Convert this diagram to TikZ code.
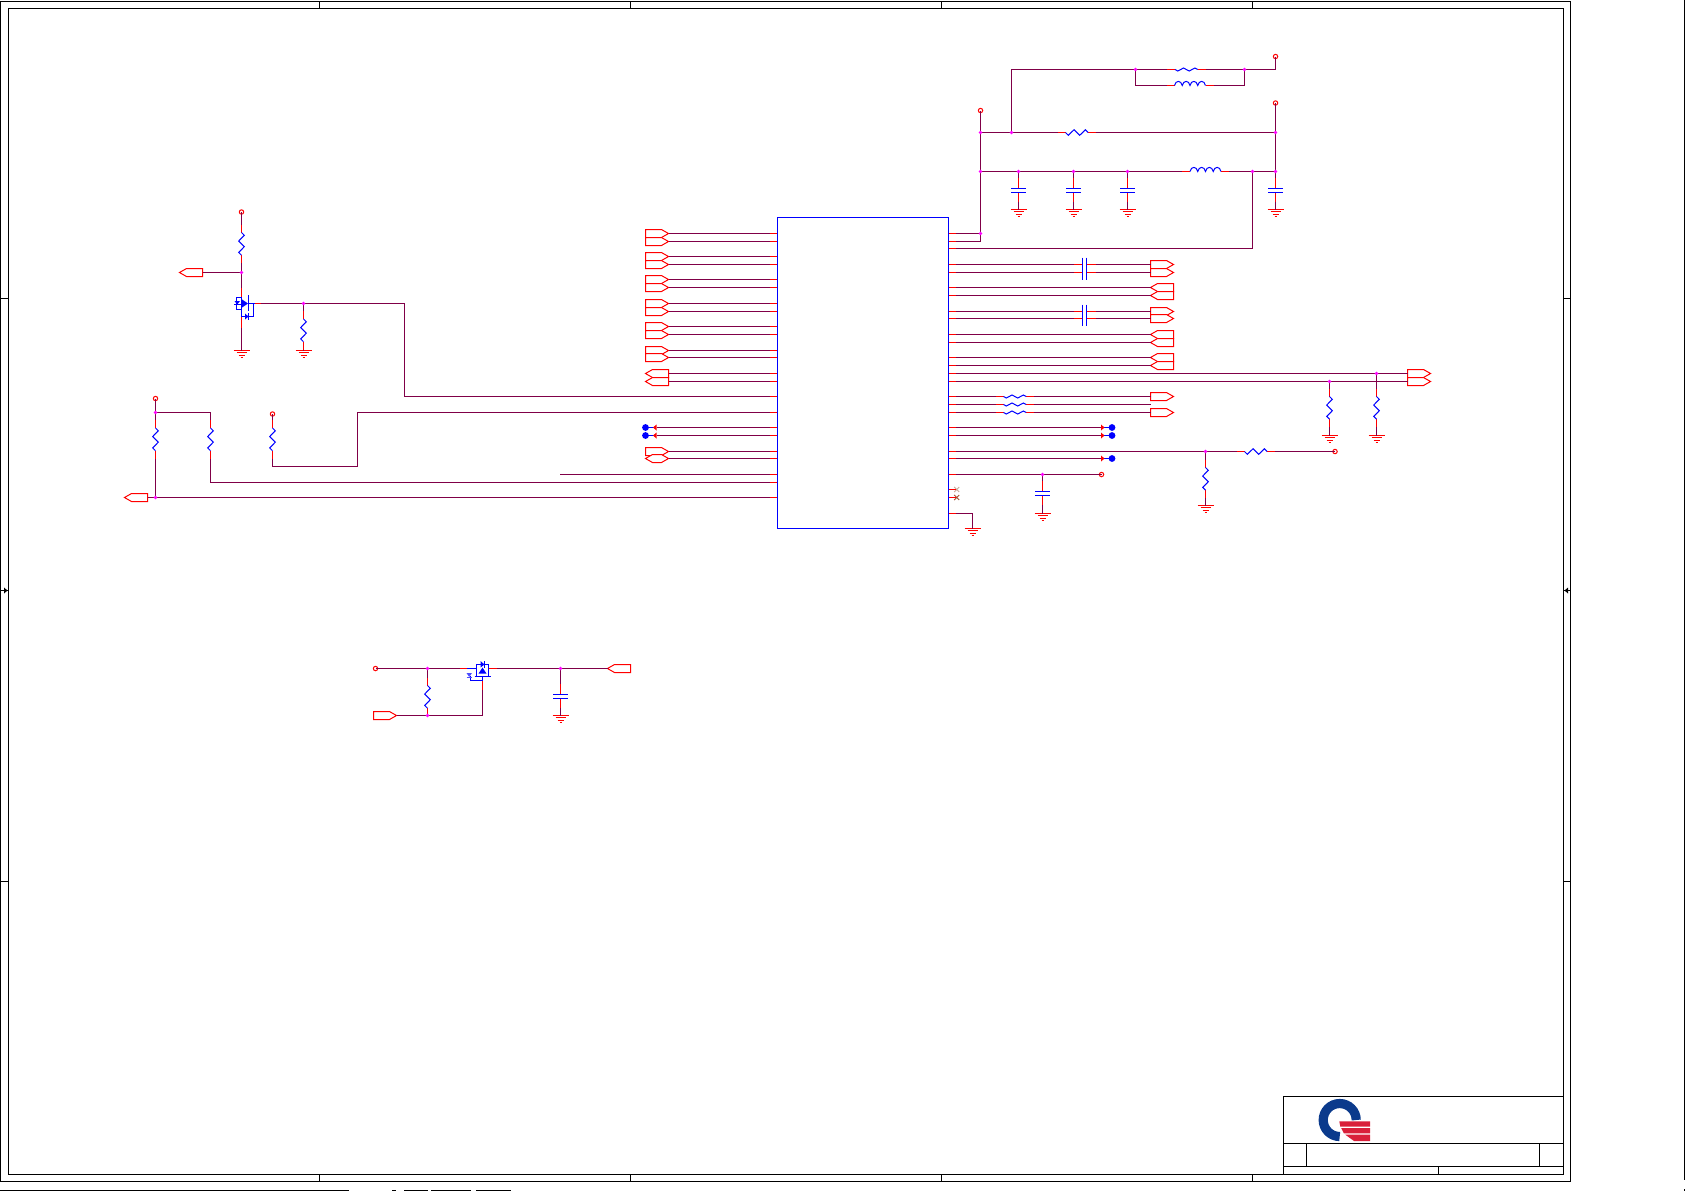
\documentclass[tikz,border=0pt]{standalone}
\definecolor{wirec}{HTML}{800048}
\definecolor{pinc}{HTML}{FF0000}
\definecolor{compc}{HTML}{0000FF}
\definecolor{juncc}{HTML}{FF00FF}
\definecolor{logob}{HTML}{0B3A8C}
\definecolor{logor}{HTML}{D9203A}
\definecolor{nc}{HTML}{A05030}
\definecolor{ncpale}{HTML}{C8A898}
\tikzset{
  wire/.style={draw=wirec,line width=0.5pt},
  pin/.style={draw=pinc,line width=0.5pt},
  comp/.style={draw=compc,line width=0.5pt},
  plate/.style={draw=compc,line width=0.6pt},
  port/.style={draw=pinc,line width=0.5pt,fill=white,line join=miter},
  frame/.style={draw=black,line width=0.5pt},
  chip/.style={draw=compc,line width=0.5pt,rectangle,inner sep=0pt,outer sep=0pt,minimum width=85.5pt,minimum height=155.5pt},
}
% components: coordinates #1-a and #1-b are their two connection ends
\newcommand{\resV}[3]{%
  \coordinate (#1-a) at (#2,#3-8); \coordinate (#1-b) at (#2,#3+30.7);
  \draw[pin] (#1-a) -- (#2,#3); \draw[pin] (#2,#3+22.7) -- (#1-b);
  \draw[comp] (#2,#3) -- (#2+2.8,#3+2.8) -- (#2-2.8,#3+8.5) -- (#2+2.8,#3+14.2) -- (#2-2.8,#3+19.9) -- (#2,#3+22.7);}
\newcommand{\resH}[4]{% name,x,y,amp
  \coordinate (#1-a) at (#2-8,#3); \coordinate (#1-b) at (#2+30.7,#3);
  \draw[pin] (#1-a) -- (#2,#3); \draw[pin] (#2+22.7,#3) -- (#1-b);
  \draw[comp] (#2,#3) -- (#2+2.8,#3+#4) -- (#2+8.5,#3-#4) -- (#2+14.2,#3+#4) -- (#2+19.9,#3-#4) -- (#2+22.7,#3);}
\newcommand{\indH}[3]{%
  \coordinate (#1-a) at (#2-8,#3); \coordinate (#1-b) at (#2+39,#3);
  \draw[pin] (#1-a) -- (#2,#3); \draw[pin] (#2+31,#3) -- (#1-b);
  \draw[comp] (#2,#3)
    .. controls (#2+1,#3-5.5) and (#2+6.7,#3-5.5) .. (#2+7.75,#3)
    .. controls (#2+8.75,#3-5.5) and (#2+14.5,#3-5.5) .. (#2+15.5,#3)
    .. controls (#2+16.5,#3-5.5) and (#2+22.2,#3-5.5) .. (#2+23.25,#3)
    .. controls (#2+24.25,#3-5.5) and (#2+30,#3-5.5) .. (#2+31,#3);}
\newcommand{\capV}[3]{% name,x,y of upper plate
  \coordinate (#1-a) at (#2,#3-11); \coordinate (#1-b) at (#2,#3+13);
  \draw[pin] (#1-a) -- (#2,#3); \draw[pin] (#2,#3+4) -- (#1-b);
  \draw[plate] (#2-7.5,#3) -- (#2+7.5,#3); \draw[plate] (#2-7.5,#3+4) -- (#2+7.5,#3+4);}
\newcommand{\capH}[3]{%
  \coordinate (#1-a) at (#2-11,#3); \coordinate (#1-b) at (#2+11.5,#3);
  \draw[pin] (#1-a) -- (#2-2,#3); \draw[pin] (#2+2,#3) -- (#1-b);
  \draw[plate] (#2-2,#3-7) -- (#2-2,#3+7); \draw[plate] (#2+2,#3-7) -- (#2+2,#3+7);}
\newcommand{\gnd}[3]{%
  \coordinate (#1) at (#2,#3);
  \draw[pin] (#2-8,#3) -- (#2+8,#3);
  \draw[pin] (#2-5,#3+2) -- (#2+5,#3+2);
  \draw[pin] (#2-3,#3+5) -- (#2+3,#3+5);
  \draw[pin] (#2-1,#3+7) -- (#2+1,#3+7);}
\newcommand{\pwr}[3]{%
  \coordinate (#1) at (#2,#3);
  \draw[draw=pinc,line width=0.5pt,fill=white] (#2,#3) circle[radius=1.1pt];}
\newcommand{\junc}[3]{\coordinate (#1) at (#2,#3);}
\newcommand{\dotj}[1]{\fill[juncc] (#1) circle[radius=0.95pt];}
\newcommand{\portR}[3]{%
  \coordinate (#1-w) at (#2,#3); \coordinate (#1-e) at (#2+23,#3);
  \draw[port] (#2,#3-4) -- (#2+16,#3-4) -- (#2+23,#3) -- (#2+16,#3+4) -- (#2,#3+4) -- cycle;}
\newcommand{\portL}[3]{%
  \coordinate (#1-w) at (#2,#3); \coordinate (#1-e) at (#2+23,#3);
  \draw[port] (#2,#3) -- (#2+7,#3-4) -- (#2+23,#3-4) -- (#2+23,#3+4) -- (#2+7,#3+4) -- cycle;}
\newcommand{\portB}[3]{%
  \coordinate (#1-w) at (#2,#3); \coordinate (#1-e) at (#2+23,#3);
  \draw[port] (#2,#3) -- (#2+7,#3-4) -- (#2+16,#3-4) -- (#2+23,#3) -- (#2+16,#3+4) -- (#2+7,#3+4) -- cycle;}
\newcommand{\testL}[3]{% dot on the left, wire on the right
  \coordinate (#1) at (#2+11,#3);
  \draw[comp] (#2,#3) -- (#2+8,#3);
  \fill[pinc] (#2+11,#3-3) -- (#2+11,#3+3) -- (#2+7.5,#3) -- cycle;
  \fill[compc] (#2,#3) circle[radius=1.7pt];}
\newcommand{\testR}[3]{% dot on the right, wire on the left
  \coordinate (#1) at (#2-11,#3);
  \draw[comp] (#2-8,#3) -- (#2,#3);
  \fill[pinc] (#2-11,#3-3) -- (#2-11,#3+3) -- (#2-7.5,#3) -- cycle;
  \fill[compc] (#2,#3) circle[radius=1.7pt];}
\newcommand{\ncmark}[3]{%
  \draw[#3,line width=0.45pt] (#1-2.5,#2-2.5) -- (#1+2.5,#2+2.5);
  \draw[#3,line width=0.45pt] (#1-2.5,#2+2.5) -- (#1+2.5,#2-2.5);}
\begin{document}
\begin{tikzpicture}[x=0.5pt,y=-0.5pt]
\useasboundingbox (0,0) rectangle (1685,1191);

% ---------- sheet frame ----------
\draw[frame] (0.5,1.5) rectangle (1570.5,1181.5);
\draw[frame] (8.5,8.5) rectangle (1563.5,1174.5);
\foreach \x in {319.5,630.5,941.5,1252.5}{
  \draw[frame] (\x,1.5) -- (\x,8.5);
  \draw[frame] (\x,1174.5) -- (\x,1181.5);
}
\foreach \y in {298.5,881.5}{
  \draw[frame] (0.5,\y) -- (8.5,\y);
  \draw[frame] (1563.5,\y) -- (1570.5,\y);
}
\draw[frame] (0.5,590.5) -- (8.5,590.5);
\fill[black] (7.5,590.5) -- (4,587.5) -- (4,593.5) -- cycle;
\draw[frame] (1563.5,590.5) -- (1570.5,590.5);
\fill[black] (1564.5,590.5) -- (1568,587.5) -- (1568,593.5) -- cycle;
\draw[frame] (1684.5,0) -- (1684.5,1180);
\draw[frame] (1684.5,1189) -- (1684.5,1191);
\draw[black,line width=0.7pt] (0,1190.3) -- (349,1190.3);
\foreach \a/\b in {392/396,404/428,431/471,476/511}{
  \draw[black,line width=0.7pt] (\a,1190.3) -- (\b,1190.3);
}
% title block
\draw[frame] (1283.5,1174.5) -- (1283.5,1096.5) -- (1563.5,1096.5);
\draw[frame] (1283.5,1143.5) -- (1563.5,1143.5);
\draw[frame] (1283.5,1166.5) -- (1563.5,1166.5);
\draw[frame] (1306.5,1143.5) -- (1306.5,1166.5);
\draw[frame] (1539.5,1143.5) -- (1539.5,1166.5);
\draw[frame] (1438.5,1166.5) -- (1438.5,1174.5);
% logo
\draw[logob,line width=4.6pt] (1356.2,1120) arc[start angle=0,end angle=270,radius=8.25pt];
\fill[logor] (1339.3,1121.3) -- (1370,1121.3) -- (1370,1126.7) -- (1340.3,1126.7) -- cycle;
\fill[logor] (1341.2,1128) -- (1370,1128) -- (1370,1133.3) -- (1343.8,1133.3) -- cycle;
\fill[logor] (1345.3,1134.7) -- (1370,1134.7) -- (1370,1141) -- (1354,1141) -- cycle;

% ---------- main chip ----------
\node[chip] (U1) at (863,373) {};
\foreach \y [count=\i] in {233.5,241.5,256.5,264.5,279.5,287.5,303.5,311.5,326.5,334.5,350.5,357.5,373.5,381.5,396.5,412.5,427.5,435.5,451.5,458.5,474.5,482.5,497.5}{
  \coordinate (L\i) at (769.5,\y);
}
\foreach \y [count=\i] in {233.5,241.5,248.5,264.5,272.5,287.5,295.5,311.5,318.5,334.5,342.5,357.5,365.5,373.5,381.5,396.5,404.5,412.5,427.5,435.5,451.5,458.5,474.5,489.5,497.5,513.5}{
  \coordinate (R\i) at (956,\y);
}

% ---------- left connectors of the chip ----------
\foreach \i/\y in {1/233.5,2/241.5,3/256.5,4/264.5,5/279.5,6/287.5,7/303.5,8/311.5,9/326.5,10/334.5,11/350.5,12/357.5,19/451.5}{
  \portR{PL\i}{645.5}{\y}
  \draw[wire] (PL\i-e) -- (L\i);
}
\foreach \i/\y in {13/373.5,14/381.5}{
  \portL{PL\i}{645.5}{\y}
  \draw[wire] (PL\i-e) -- (L\i);
}
\portB{PL20}{645.5}{458.5}
\draw[wire] (PL20-e) -- (L20);
\testL{TL17}{645.5}{427.5}
\testL{TL18}{645.5}{435.5}
\draw[wire] (TL17) -- (L17);
\draw[wire] (TL18) -- (L18);
\coordinate (F21) at (560,474.5);
\draw[wire] (F21) -- (L21);

% ---------- upper left: MOSFET Q1 ----------
\pwr{PW10}{241.5}{212}
\resV{R10}{241.5}{232.5}
\junc{J10}{241.5}{272.5}
\portL{P10}{179.5}{272.5}
\coordinate (Q1d) at (241.5,288);
\coordinate (Q1s) at (241.5,328);
\coordinate (Q1g) at (261,303.5);
\gnd{G10}{241.5}{350.5}
\junc{J11}{303.5}{303.5}
\resV{R11}{303.5}{319}
\gnd{G11}{303.5}{350.5}
\coordinate (K1) at (404.5,396.5);
\draw[wire] (PW10) -- (R10-a);
\draw[wire] (R10-b) -- (J10) -- (Q1d);
\draw[wire] (P10-e) -- (J10);
\draw[wire] (Q1s) -- (G10);
\draw[wire] (Q1g) -- (J11) -| (K1) -- (L15);
\draw[wire] (J11) -- (R11-a);
\draw[wire] (R11-b) -- (G11);
\draw[pin] (241.5,288) -- (241.5,297);
\draw[pin] (241.5,316.5) -- (241.5,328);
\draw[pin] (255,303.5) -- (Q1g);
\draw[plate] (236.5,309.5) -- (241.5,309.5) -- (241.5,297.5) -- (236.5,297.5) -- cycle;
\draw[plate] (241.5,309.5) -- (241.5,316.5) -- (253.5,316.5) -- (253.5,303.5);
\draw[plate] (248.5,303.5) -- (255,303.5);
\draw[plate] (248.5,295) -- (248.5,311);
\fill[compc] (241.8,299.3) -- (241.8,307.7) -- (248,303.5) -- cycle;
\fill[compc] (234.5,301) -- (240,301) -- (237.2,304.5) -- cycle;
\draw[comp] (234,304.5) -- (240.5,304.5);
\fill[compc] (245,313.5) -- (245,319.5) -- (248.5,316.5) -- cycle;
\draw[comp] (248.9,313.3) -- (248.9,319.7);

% ---------- lower left resistors ----------
\pwr{PW12}{155.5}{398.5}
\junc{J12}{155.5}{412.5}
\resV{R12}{155.5}{428}
\resV{R13}{210.5}{428}
\pwr{PW14}{272.5}{414}
\resV{R14}{272.5}{428}
\junc{J13}{155.5}{497.5}
\portL{P13}{124.5}{497.5}
\coordinate (K2) at (357.5,412.5);
\coordinate (K3) at (272.5,466.5);
\coordinate (K4) at (210.5,482.5);
\coordinate (K5) at (210.5,412.5);
\draw[wire] (PW12) -- (J12) -- (R12-a);
\draw[wire] (J12) -- (K5) -- (R13-a);
\draw[wire] (R13-b) -- (K4) -- (L22);
\draw[wire] (PW14) -- (R14-a);
\draw[wire] (R14-b) -- (K3) -| (K2) -- (L16);
\draw[wire] (R12-b) -- (J13);
\draw[wire] (P13-e) -- (J13) -- (L23);

% ---------- top right: power nets ----------
\pwr{PW20}{1275.5}{56.5}
\pwr{PW21}{1275.5}{103}
\pwr{PW22}{980.5}{110.5}
\junc{J20}{1135.5}{69.5}
\junc{J21}{1244.5}{69.5}
\junc{J22}{980.5}{132.5}
\junc{J23}{1011.5}{132.5}
\junc{J24}{1275.5}{132.5}
\junc{J25}{980.5}{171.5}
\junc{J26}{1275.5}{171.5}
\junc{J27}{1252.5}{171.5}
\junc{J28}{980.5}{233.5}
\junc{J30}{1018.5}{171.5}
\junc{J31}{1073.5}{171.5}
\junc{J32}{1127.5}{171.5}
\resH{R20}{1175}{69.5}{1.5}
\indH{L20}{1174.5}{85.5}
\resH{R21}{1065.5}{132.5}{2.8}
\indH{L21}{1190}{171.5}
\capV{C30}{1018.5}{188.5}
\capV{C31}{1073.5}{188.5}
\capV{C32}{1127.5}{188.5}
\capV{C33}{1275.5}{188.5}
\gnd{G30}{1018.5}{209.5}
\gnd{G31}{1073.5}{209.5}
\gnd{G32}{1127.5}{209.5}
\gnd{G33}{1275.5}{209.5}
\draw[wire] (PW20) |- (R20-b);
\draw[wire] (R20-a) -- (J20);
\draw[wire] (R20-b) -- (J21);
\draw[wire] (J20) |- (L20-a);
\draw[wire] (L20-b) -| (J21);
\draw[wire] (J20) -| (J23);
\draw[wire] (J22) -- (J23) -- (R21-a);
\draw[wire] (R21-b) -- (J24);
\draw[wire] (PW21) -- (J24) -- (J26) -- (C33-a);
\draw[wire] (PW22) -- (J22) -- (J25) -- (J28);
\draw[wire] (J25) -- (J30) -- (J31) -- (J32) -- (L21-a);
\draw[wire] (L21-b) -- (J27) -- (J26);
\draw[wire] (J30) -- (C30-a);
\draw[wire] (J31) -- (C31-a);
\draw[wire] (J32) -- (C32-a);
\draw[wire] (C30-b) -- (G30);
\draw[wire] (C31-b) -- (G31);
\draw[wire] (C32-b) -- (G32);
\draw[wire] (C33-b) -- (G33);
\draw[wire] (R1) -- (J28);
\draw[wire] (R2) -| (J28);
\draw[wire] (R3) -| (J27);

% ---------- right connectors of the chip ----------
\foreach \i/\y in {4/264.5,5/272.5,8/311.5,9/318.5}{
  \capH{CR\i}{1084.5}{\y}
  \portR{PR\i}{1150.5}{\y}
  \draw[wire] (R\i) -- (CR\i-a);
  \draw[wire] (CR\i-b) -- (PR\i-w);
}
\foreach \i/\y in {6/287.5,7/295.5,10/334.5,11/342.5,12/357.5,13/365.5}{
  \portL{PR\i}{1150.5}{\y}
  \draw[wire] (R\i) -- (PR\i-w);
}
\portR{PR14}{1407.5}{373.5}
\portR{PR15}{1407.5}{381.5}
\junc{J40}{1376.5}{373.5}
\junc{J41}{1329.5}{381.5}
\resV{R40}{1376.5}{396.5}
\resV{R41}{1329.5}{396.5}
\gnd{G40}{1376.5}{435.5}
\gnd{G41}{1329.5}{435.5}
\draw[wire] (R14) -- (J40) -- (PR14-w);
\draw[wire] (R15) -- (J41) -- (PR15-w);
\draw[wire] (J40) -- (R40-a);
\draw[wire] (J41) -- (R41-a);
\draw[wire] (R40-b) -- (G40);
\draw[wire] (R41-b) -- (G41);

\resH{R50}{1003.5}{396.5}{1.5}
\resH{R51}{1003.5}{404.5}{1.5}
\resH{R52}{1003.5}{412.5}{1.5}
\portR{PR16}{1150.5}{396.5}
\portR{PR18}{1150.5}{412.5}
\coordinate (F17) at (1151,404.5);
\draw[wire] (R16) -- (R50-a);
\draw[wire] (R17) -- (R51-a);
\draw[wire] (R18) -- (R52-a);
\draw[wire] (R50-b) -- (PR16-w);
\draw[wire] (R51-b) -- (F17);
\draw[wire] (R52-b) -- (PR18-w);

\testR{TR19}{1112}{427.5}
\testR{TR20}{1112}{435.5}
\testR{TR22}{1112}{458.5}
\draw[wire] (R19) -- (TR19);
\draw[wire] (R20) -- (TR20);
\draw[wire] (R22) -- (TR22);

\junc{J50}{1205.5}{451.5}
\resH{R53}{1244.5}{451.5}{2.8}
\resV{R54}{1205.5}{467.5}
\gnd{G50}{1205.5}{505.5}
\pwr{PW50}{1335}{451.5}
\draw[wire] (R21) -- (J50) -- (R53-a);
\draw[wire] (R53-b) -- (PW50);
\draw[wire] (J50) -- (R54-a);
\draw[wire] (R54-b) -- (G50);

\junc{J51}{1042.5}{474.5}
\pwr{PW51}{1101.5}{474.5}
\capV{C51}{1042.5}{491.5}
\gnd{G51}{1042.5}{513.5}
\draw[wire] (R23) -- (J51) -- (PW51);
\draw[wire] (J51) -- (C51-a);
\draw[wire] (C51-b) -- (G51);

\ncmark{956.7}{489.5}{ncpale}
\ncmark{956.7}{497.5}{nc}
\gnd{G52}{972.5}{528.5}
\draw[wire] (R26) -| (G52);

% ---------- lower MOSFET Q2 ----------
\pwr{PW60}{375.5}{668.5}
\junc{J60}{427.5}{668.5}
\junc{J61}{427.5}{715.5}
\resV{R60}{427.5}{685.5}
\portR{P60}{373.5}{715.5}
\coordinate (Q2s) at (460,668.5);
\coordinate (Q2d) at (497,668.5);
\coordinate (Q2g) at (482.5,690);
\junc{J62}{560.5}{668.5}
\capV{C60}{560.5}{694.5}
\gnd{G60}{560.5}{715.5}
\portL{P61}{607.5}{668.5}
\draw[wire] (PW60) -- (J60) -- (Q2s);
\draw[wire] (J60) -- (R60-a);
\draw[wire] (R60-b) -- (J61);
\draw[wire] (P60-e) -- (J61) -| (Q2g);
\draw[wire] (Q2d) -- (J62) -- (P61-w);
\draw[wire] (J62) -- (C60-a);
\draw[wire] (C60-b) -- (G60);
\draw[pin] (Q2s) -- (467,668.5);
\draw[pin] (488.5,668.5) -- (Q2d);
\draw[pin] (482.5,680.5) -- (Q2g);
\draw[plate] (467,668.5) -- (476.5,668.5) -- (476.5,664.5) -- (488.5,664.5) -- (488.5,675.5);
\draw[plate] (476.5,668.5) -- (476.5,675.5);
\draw[plate] (474.5,676.5) -- (490.5,676.5);
\draw[plate] (470.5,676) -- (470.5,680.5) -- (482.5,680.5) -- (482.5,676.5);
\fill[compc] (478.5,673.5) -- (486.5,673.5) -- (482.5,667.5) -- cycle;
\fill[compc] (480.5,661) -- (480.5,667.5) -- (484.5,664.5) -- cycle;
\draw[comp] (484.9,661) -- (484.9,668);
\fill[compc!70] (466.5,673) -- (472,673) -- (469.2,677) -- cycle;
\draw[compc!70,line width=0.5pt] (466.5,677) -- (472,677);

% ---------- pins on the chip, drawn over the wires ----------
\foreach \i in {1,...,23}{ \draw[pin] (L\i) -- (L\i -| U1.west); }
\foreach \i in {1,...,26}{ \draw[pin] (R\i) -- (R\i -| U1.east); }
\node[chip] at (U1) {};

% ---------- junction dots ----------
\foreach \j in {J10,J11,J12,J13,J20,J21,J22,J23,J24,J25,J26,J27,J28,J30,J31,J32,J40,J41,J50,J51,J60,J61,J62}{
  \dotj{\j}
}
\end{tikzpicture}
\end{document}
